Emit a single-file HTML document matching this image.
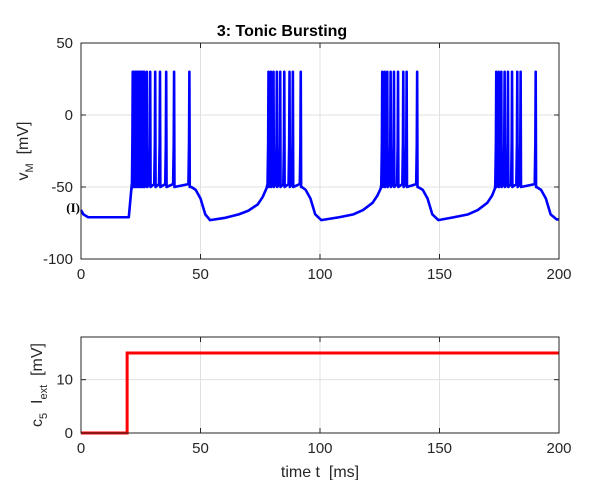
<!DOCTYPE html>
<html><head><meta charset="utf-8"><style>
body{margin:0;background:#fff;}
svg{font-family:"Liberation Sans",sans-serif;display:block}
text{white-space:pre}
</style></head><body>
<svg id="c" width="614" height="480" viewBox="0 0 614 480"></svg>
<script>
const xTicks=[0,50,100,150,200];
const topYTicks=[-100,-50,0,50];
const botYTicks=[0,10];
const baseT=[0,1,3,20,21.3,46.2,48,50,52,54,60,66,70,74,76,77.6,92.4,94,96,98,100.5,108,114,118,122,124,125.4,141,143,145,147,149.5,156,162,166,170,172,173.2,190.6,192.5,194.5,196.5,199,200];
const baseV=[-66,-69,-71,-71,-51,-50,-52,-58,-69,-73,-71.5,-69,-66.5,-62,-57,-51,-50,-52,-58,-69,-73,-71,-69,-66,-61,-56,-51,-50,-52,-58,-69,-73,-71,-69,-66,-61,-56,-51,-50,-52,-58,-69,-72.5,-72.5];
const spikeT=[21.6,22.2,22.8,23.4,24,24.6,25.2,25.8,26.4,27.5,28.9,31,33,35.6,38.9,45.3,
78.4,79.4,80.5,81.9,83.3,85,87.2,88.6,91.9,
126,127,128.1,129.5,130.9,132.6,134.8,136.2,140.6,
173.7,174.7,175.8,177.2,178.6,180.3,182.5,183.9,190.2];
const spikePeak=30, spikeReset=-50;
const inputT=[0,19.3,19.3,200];
const inputV=[0,0,15,15];

const svg=document.getElementById('c');
const NS='http://www.w3.org/2000/svg';
function mk(tag,attrs,parent){const e=document.createElementNS(NS,tag);for(const k in attrs)e.setAttribute(k,attrs[k]);(parent||svg).appendChild(e);return e;}
const X0=81,X1=559;
const sx=t=>X0+(t/200)*(X1-X0);
function axes(name,yTop,yBot,ymin,ymax,yTicks){
  const sy=v=>yBot-(v-ymin)/(ymax-ymin)*(yBot-yTop);
  const g=mk('g',{});
  
  
  xTicks.forEach(t=>{
    const l=mk('line',{x1:sx(t),x2:sx(t),y1:yTop,y2:yBot,stroke:'#e0e0e0','stroke-width':1},g);
    
    mk('line',{x1:sx(t),x2:sx(t),y1:yBot,y2:yBot-5,stroke:'#262626'},g);
    mk('line',{x1:sx(t),x2:sx(t),y1:yTop,y2:yTop+5,stroke:'#262626'},g);
    const tx=mk('text',{x:sx(t),y:yBot+20,'text-anchor':'middle','font-size':15,fill:'#262626'},g);
    tx.textContent=t;
  });
  yTicks.forEach(v=>{
    if(v>ymin&&v<ymax){const l=mk('line',{x1:X0,x2:X1,y1:sy(v),y2:sy(v),stroke:'#e0e0e0'},g);
    }
    mk('line',{x1:X0,x2:X0+5,y1:sy(v),y2:sy(v),stroke:'#262626'},g);
    mk('line',{x1:X1,x2:X1-5,y1:sy(v),y2:sy(v),stroke:'#262626'},g);
    const tx=mk('text',{x:X0-8,y:sy(v)+5,'text-anchor':'end','font-size':15,fill:'#262626'},g);
    tx.textContent=v;
  });
  return {sy,g,yTop,yBot};
}
const A=axes('voltage-axes',43,259,-100,50,topYTicks);
const pts=[];
baseT.forEach((t,i)=>pts.push([t,baseV[i]]));
spikeT.forEach(t=>{pts.push([t-0.35,spikeReset+2]);pts.push([t-0.1,-20]);pts.push([t+0.05,spikePeak]);pts.push([t+0.2,spikeReset]);});
pts.sort((a,b)=>a[0]-b[0]);
const d=pts.map((p,i)=>(i?'L':'M')+sx(p[0]).toFixed(2)+','+A.sy(p[1]).toFixed(2)).join('');
const vl=mk('path',{d:d,fill:'none',stroke:'#0000ff','stroke-width':2.6,'stroke-linejoin':'round'});


const b1=mk('rect',{x:X0,y:43,width:X1-X0,height:216,fill:'none',stroke:'#262626'});

const ti=mk('text',{x:282,y:36,'text-anchor':'middle','font-size':16,'font-weight':'bold',fill:'#000'});
ti.textContent='3: Tonic Bursting';

const lab=mk('text',{x:80,y:212,'text-anchor':'end','font-size':13,'font-weight':'bold','font-family':'Liberation Serif',fill:'#000'});
lab.textContent='(I)';

const yl=mk('text',{transform:'translate(28,151) rotate(-90)','text-anchor':'middle','font-size':16,fill:'#262626'});
yl.innerHTML='v<tspan font-size="11" dy="5">M</tspan><tspan dy="-5">  [mV]</tspan>';

const B=axes('input-axes',337,433,0,18,botYTicks);
const d2=inputT.map((t,i)=>(i?'L':'M')+sx(t).toFixed(2)+','+B.sy(inputV[i]).toFixed(2)).join('');
const il=mk('path',{d:d2,fill:'none',stroke:'#ff0000','stroke-width':3});

const b2=mk('rect',{x:X0,y:337,width:X1-X0,height:96,fill:'none',stroke:'#262626'});

const yl2=mk('text',{transform:'translate(42,385) rotate(-90)','text-anchor':'middle','font-size':16,fill:'#262626'});
yl2.innerHTML='c<tspan font-size="11" dy="5">5</tspan><tspan dy="-5">  I</tspan><tspan font-size="11" dy="5">ext</tspan><tspan dy="-5">  [mV]</tspan>';

const xl=mk('text',{x:320,y:477,'text-anchor':'middle','font-size':16,fill:'#262626'});
xl.textContent='time t  [ms]';

</script>
</body></html>
